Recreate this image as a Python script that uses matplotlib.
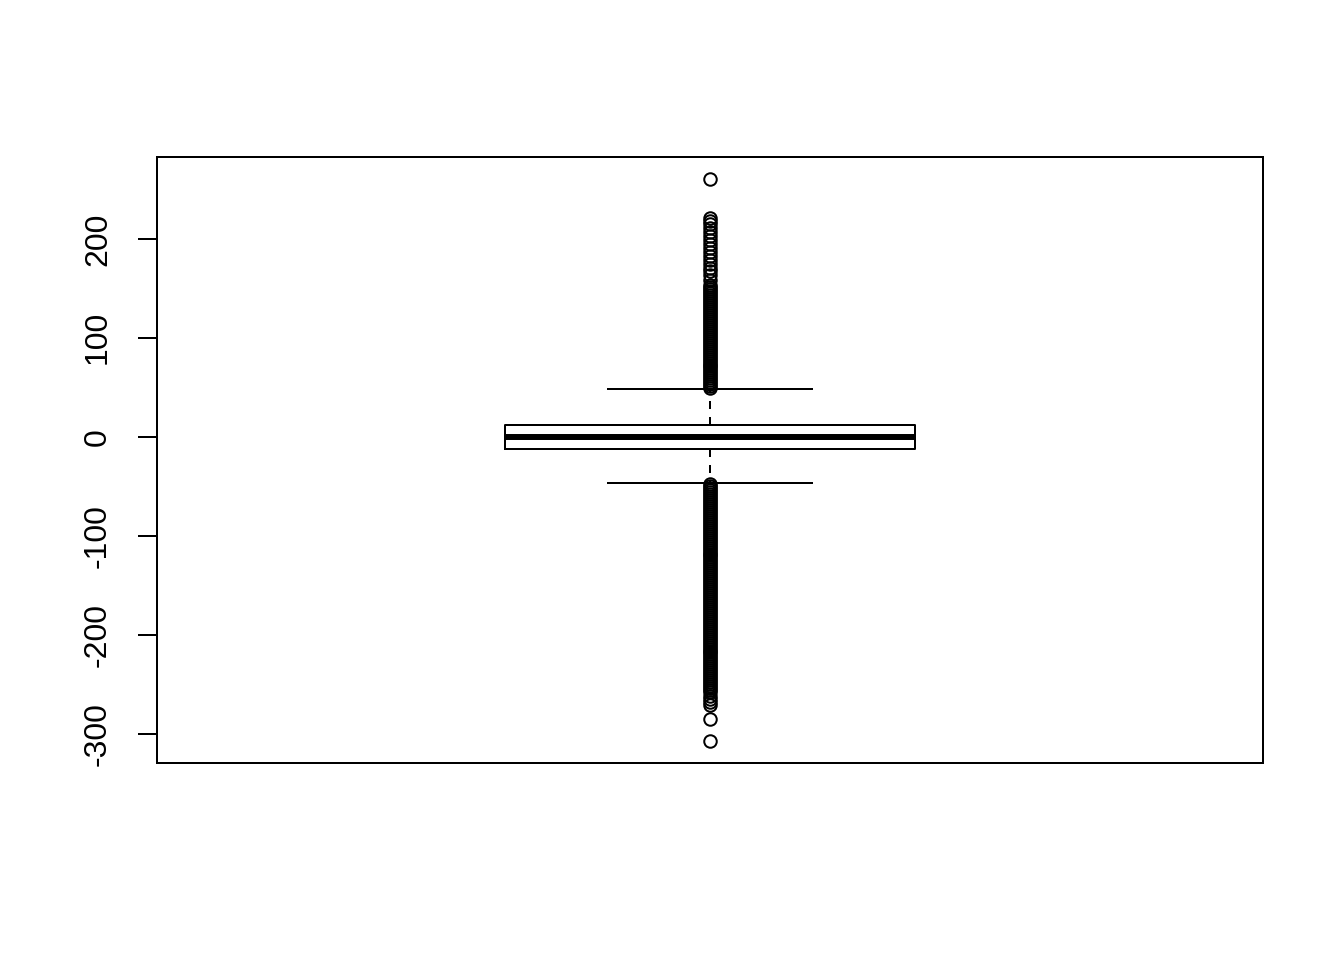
import matplotlib
matplotlib.use("Agg")
import matplotlib.pyplot as plt

plt.rcParams['font.family'] = ['Liberation Sans', 'DejaVu Sans']

# Box statistics
median = 0
q1 = -12
q3 = 12
whisker_low = -47
whisker_high = 48.5

upper_outliers = [49, 51, 53, 55, 57, 59, 61, 63, 65, 67, 69, 71, 73, 75, 77, 79,
                  81, 83, 85, 87, 89, 91, 93, 95, 97, 99, 101, 103, 105, 107, 109,
                  111, 113, 115, 117, 119, 121, 123, 125, 127, 129, 131, 133, 135,
                  137, 139, 141, 143, 145, 147, 149, 151, 153,
                  158, 163, 167, 171, 175, 179, 183, 187, 191, 195, 199, 203, 207,
                  211, 215, 218, 221, 260]
lower_outliers = [-48, -50, -52, -54, -56, -58, -60, -62, -64, -66, -68, -70, -72,
                  -74, -76, -78, -80, -82, -84, -86, -88, -90, -92, -94, -96, -98,
                  -100, -102, -104, -106, -108, -110, -112, -114, -116, -118, -120,
                  -122, -124, -126, -128, -130, -132, -134, -136, -138, -140, -142,
                  -144, -146, -148, -150, -152, -154, -156, -158, -160, -162, -164,
                  -166, -168, -170, -172, -174, -176, -178, -180, -182, -184, -186,
                  -188, -190, -192, -194, -196, -198, -200, -202, -204, -206, -208,
                  -210, -212, -214, -216, -218, -220, -222, -224, -226, -228, -230,
                  -232, -234, -236, -238, -240, -242, -244, -246, -248, -250, -252,
                  -254, -256, -258, -262, -265, -268, -271, -285, -307]
yticks = [-300, -200, -100, 0, 100, 200]

fig = plt.figure(figsize=(13.44, 9.6), dpi=100)
ax = fig.add_axes([157/1344, 1 - 763/960, (1263 - 157)/1344, (763 - 157)/960])

stats = [dict(med=median, q1=q1, q3=q3, whislo=whisker_low, whishi=whisker_high,
              fliers=upper_outliers + lower_outliers)]
lw = 1.44
ax.bxp(stats, positions=[1], widths=0.4, showfliers=True,
       boxprops=dict(color='black', linewidth=lw),
       medianprops=dict(color='black', linewidth=4.3, solid_capstyle='butt'),
       whiskerprops=dict(color='black', linewidth=lw, linestyle=(0, (4, 4))),
       capprops=dict(color='black', linewidth=lw),
       flierprops=dict(marker='o', markerfacecolor='none', markeredgecolor='black',
                       markersize=9, markeredgewidth=lw, linestyle='none'),
       capwidths=0.2)

ax.set_xlim(0.46, 1.54)
allvals = upper_outliers + lower_outliers
lo, hi = min(allvals), max(allvals)
pad = (hi - lo) * 0.04
ax.set_ylim(lo - pad, hi + pad)

ax.set_xticks([])
ax.set_yticks(yticks)
ax.set_yticklabels([str(t) for t in yticks], rotation=90, va='center', fontsize=23)
ax.tick_params(axis='y', length=13.7, width=lw, pad=18)
for s in ax.spines.values():
    s.set_linewidth(lw)

fig.savefig("out.png", dpi=100)
